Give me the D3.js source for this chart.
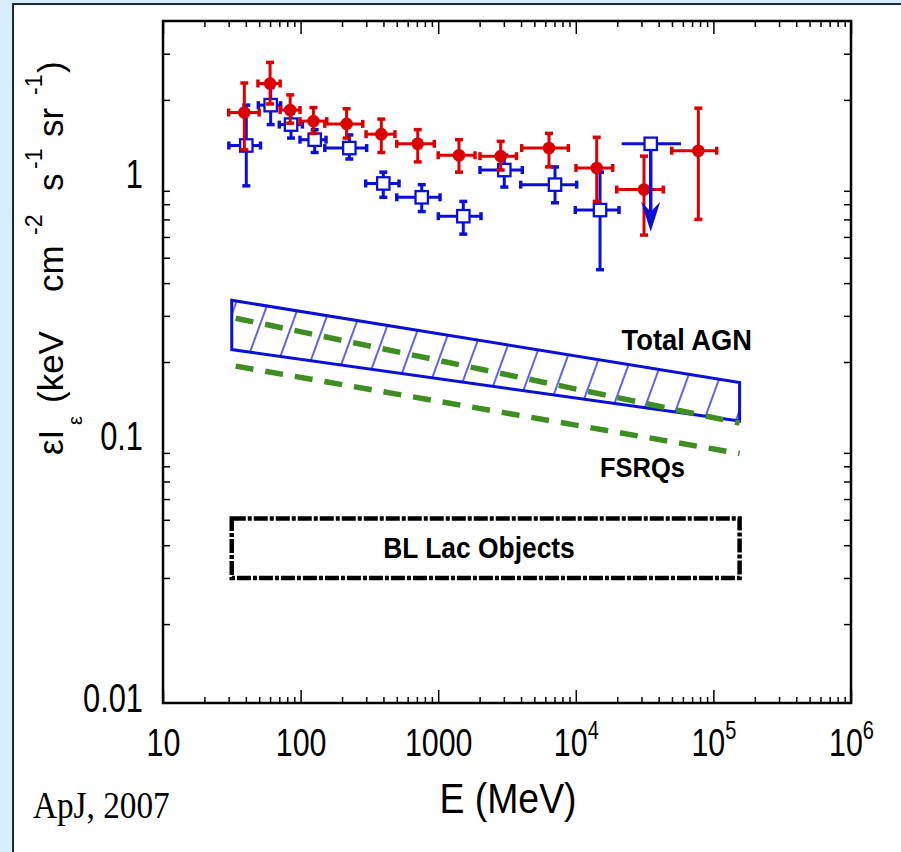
<!DOCTYPE html>
<html>
<head>
<meta charset="utf-8">
<script src="https://cdn.jsdelivr.net/npm/d3@7"></script>
<style>
  body { margin: 0; background: #d8edfb; }
  svg { display: block; }
  text { font-family: "Liberation Sans", Arial, sans-serif; fill: #000; }
</style>
</head>
<body>
<div id="chart"></div>
<script>
// ---- data ----

// red filled circles
var redE    = [39, 60, 84, 124, 216, 386, 710, 1416, 2846, 6386, 14190, 31310, 77700];
var redELo  = [30, 49, 71, 99, 150, 299, 500, 1000, 2013, 4045, 10035, 19830, 49770];
var redEHi  = [50, 71, 99, 155, 283, 485, 937, 1851, 3707, 8820, 18550, 43240, 105700];
var redI    = [1.79, 2.31, 1.83, 1.66, 1.62, 1.48, 1.36, 1.23, 1.22, 1.31, 1.10, 0.91, 1.28];
var redILo  = [1.29, 1.93, 1.63, 1.49, 1.43, 1.26, 1.16, 1.06, 1.08, 1.11, 0.82, 0.61, 0.70];
var redIHi  = [2.32, 2.78, 2.09, 1.87, 1.85, 1.69, 1.54, 1.41, 1.39, 1.49, 1.44, 1.22, 1.86];

// blue open squares
var blueE   = [40.3, 60.6, 85.2, 126.6, 226, 399, 759, 1522, 3022, 7062, 15000];
var blueELo = [30.1, 49.3, 70, 99, 150, 297, 500, 1002, 2013, 3979, 9917];
var blueEHi = [51.1, 71.6, 103, 153, 302, 519, 1031, 2047, 4086, 10150, 20606];
var blueI   = [1.34, 1.91, 1.61, 1.41, 1.31, 0.96, 0.85, 0.72, 1.08, 0.95, 0.76];
var blueILo = [0.94, 1.61, 1.43, 1.26, 1.19, 0.85, 0.75, 0.615, 0.93, 0.81, 0.45];
var blueIHi = [1.91, 2.23, 1.78, 1.54, 1.47, 1.06, 0.95, 0.82, 1.23, 1.11, 1.06];

// blue upper limit
var ulE = [35030], ulELo = [21560], ulEHi = [58150], ulI = [1.36], ulTip = [0.628];

// total AGN band, FSRQ lines, BL Lac box
var bandE     = [31.6, 1.55e5];
var agnUpper  = [0.344, 0.167];
var agnLower  = [0.223, 0.119];
var fsrqUpper = [0.296, 0.117];
var fsrqLower = [0.194, 0.0895];
var blLacLo   = [0.030, 0.030];
var blLacHi   = [0.0506, 0.0506];

// tick values
var xMajor = [10, 100, 1000, 1e4, 1e5, 1e6];
var yMajor = [0.01, 0.1, 1];
var mantissas = [2, 3, 4, 5, 6, 7, 8, 9];

// ---- layout ----
var margin = {top: 21, right: 50, bottom: 149, left: 163},
    width = 688,
    height = 682;

var red = "#dd0000", blue = "#0a10d8", green = "#3e8e22";

var svg = d3.select("#chart").append("svg")
    .attr("width", 901)
    .attr("height", 852);

// light blue slide background with white panel
svg.append("rect").attr("width", 901).attr("height", 852).attr("fill", "#d8edfb");
svg.append("rect")
    .attr("x", 13).attr("y", 4).attr("width", 900).attr("height", 860)
    .attr("fill", "#fff").attr("stroke", "#1e2a36").attr("stroke-width", 2);

var g = svg.append("g")
    .attr("transform", "translate(" + margin.left + "," + margin.top + ")");

// scales
var x = d3.scaleLog().domain([10, 1e6]).range([0, width]);
var y = d3.scaleLog().domain([0.01, 4]).range([height, 0]);

var xMinor = [], yMinor = [];
xMajor.slice(0, -1).forEach(function(p) {
  mantissas.forEach(function(m) { xMinor.push(m * p); });
});
yMajor.concat([10]).forEach(function(p) {
  mantissas.forEach(function(m) { if (m * p < 4) yMinor.push(m * p); });
});

// ---- axes ----
function styleTicks(sel) {
  sel.select(".domain").remove();
  sel.selectAll(".tick line").attr("stroke", "#000").attr("stroke-width", 1.5);
}

g.append("g").attr("transform", "translate(0," + height + ")")
    .call(d3.axisBottom(x).tickValues(xMinor).tickSize(-6).tickFormat(""))
    .call(styleTicks);
g.append("g")
    .call(d3.axisTop(x).tickValues(xMinor).tickSize(-6).tickFormat(""))
    .call(styleTicks);
g.append("g")
    .call(d3.axisTop(x).tickValues(xMajor).tickSize(-13).tickFormat(""))
    .call(styleTicks);

var xAxis = g.append("g").attr("transform", "translate(0," + height + ")")
    .call(d3.axisBottom(x).tickValues(xMajor).tickSize(-13).tickPadding(26))
    .call(styleTicks);

xAxis.selectAll(".tick text").each(function(d) {
  var t = d3.select(this).text("")
      .attr("transform", "scale(0.8,1)")
      .style("font-size", "38px");
  var p = Math.round(Math.log10(d));
  if (p <= 3) {
    t.text(d3.format("d")(d));
  } else {
    t.append("tspan").text("10");
    t.append("tspan").attr("dy", -16.6).style("font-size", "25px").text(p);
  }
});

g.append("g")
    .call(d3.axisLeft(y).tickValues(yMinor).tickSize(-7).tickFormat(""))
    .call(styleTicks);
g.append("g").attr("transform", "translate(" + width + ",0)")
    .call(d3.axisRight(y).tickValues(yMinor).tickSize(-7).tickFormat(""))
    .call(styleTicks);

var yAxis = g.append("g")
    .call(d3.axisLeft(y).tickValues(yMajor).tickSize(0).tickPadding(20)
          .tickFormat(function(d) { return d3.format("~g")(d); }))
    .call(styleTicks);

yAxis.selectAll(".tick text")
    .attr("x", -20 / 0.77)
    .attr("dy", "0.22em")
    .attr("transform", "scale(0.77,1)")
    .style("font-size", "40px");

// frame
g.append("rect")
    .attr("width", width).attr("height", height)
    .attr("fill", "none").attr("stroke", "#000").attr("stroke-width", 2.5);

// ---- model curves ----
var defs = svg.append("defs");
var hatch = defs.append("pattern")
    .attr("id", "hatch")
    .attr("patternUnits", "userSpaceOnUse")
    .attr("width", 30).attr("height", 10)
    .attr("patternTransform", "rotate(20)");
hatch.append("line")
    .attr("x1", 15).attr("y1", -1).attr("x2", 15).attr("y2", 11)
    .attr("stroke", blue).attr("stroke-width", 1.3);

var bandPts = bandE.map(function(e, i) { return [x(e), y(agnUpper[i])]; })
    .concat(bandE.map(function(e, i) { return [x(e), y(agnLower[i])]; }).reverse());

g.append("polygon")
    .attr("points", bandPts.map(function(p) { return p.join(","); }).join(" "))
    .attr("fill", "url(#hatch)")
    .attr("stroke", blue)
    .attr("stroke-width", 3);

var line = d3.line().x(function(d) { return x(d[0]); }).y(function(d) { return y(d[1]); });

[fsrqUpper, fsrqLower].forEach(function(vals) {
  g.append("path")
      .attr("d", line(bandE.map(function(e, i) { return [e, vals[i]]; })))
      .attr("fill", "none")
      .attr("stroke", green)
      .attr("stroke-width", 5.5)
      .attr("stroke-dasharray", "18,12")
      .attr("stroke-dashoffset", -4);
});

g.append("rect")
    .attr("x", x(bandE[0]))
    .attr("y", y(blLacHi[0]))
    .attr("width", x(bandE[1]) - x(bandE[0]))
    .attr("height", y(blLacLo[0]) - y(blLacHi[0]))
    .attr("fill", "none")
    .attr("stroke", "#000")
    .attr("stroke-width", 4.5)
    .attr("stroke-dasharray", "14,2,4,2");

// labels in the plot
function boldLabel(txt, px, py, anchor, size) {
  svg.append("text")
      .attr("transform", "translate(" + px + "," + py + ") scale(0.91,1)")
      .attr("text-anchor", anchor)
      .style("font-size", size + "px")
      .style("font-weight", "bold")
      .text(txt);
}
boldLabel("Total AGN", 752, 350, "end", 30);
boldLabel("FSRQs", 600, 477, "start", 28);
boldLabel("BL Lac Objects", 479, 558, "middle", 29);

// ---- data points ----
function pack(E, Elo, Ehi, I, Ilo, Ihi) {
  return E.map(function(e, i) {
    return {e: e, elo: Elo[i], ehi: Ehi[i], v: I[i], vlo: Ilo[i], vhi: Ihi[i]};
  });
}

function drawPoints(data, color, marker) {
  var pt = g.append("g").selectAll("g")
      .data(data)
    .enter().append("g")
      .attr("stroke", color);

  pt.append("line")
      .attr("x1", function(d) { return x(d.elo); })
      .attr("x2", function(d) { return x(d.ehi); })
      .attr("y1", function(d) { return y(d.v); })
      .attr("y2", function(d) { return y(d.v); })
      .attr("stroke-width", 3);
  pt.append("line")
      .attr("x1", function(d) { return x(d.e); })
      .attr("x2", function(d) { return x(d.e); })
      .attr("y1", function(d) { return y(d.vlo); })
      .attr("y2", function(d) { return y(d.vhi); })
      .attr("stroke-width", 3);

  // caps
  ["elo", "ehi"].forEach(function(k) {
    pt.append("line")
        .attr("x1", function(d) { return x(d[k]); })
        .attr("x2", function(d) { return x(d[k]); })
        .attr("y1", function(d) { return y(d.v) - 4; })
        .attr("y2", function(d) { return y(d.v) + 4; })
        .attr("stroke-width", 3.5);
  });
  ["vlo", "vhi"].forEach(function(k) {
    pt.append("line")
        .attr("x1", function(d) { return x(d.e) - 4; })
        .attr("x2", function(d) { return x(d.e) + 4; })
        .attr("y1", function(d) { return y(d[k]); })
        .attr("y2", function(d) { return y(d[k]); })
        .attr("stroke-width", 3.5);
  });

  if (marker === "circle") {
    pt.append("circle")
        .attr("cx", function(d) { return x(d.e); })
        .attr("cy", function(d) { return y(d.v); })
        .attr("r", 6.3)
        .attr("fill", color)
        .attr("stroke", "none");
  } else {
    pt.append("rect")
        .attr("x", function(d) { return x(d.e) - 6.2; })
        .attr("y", function(d) { return y(d.v) - 6.2; })
        .attr("width", 12.4)
        .attr("height", 12.4)
        .attr("fill", "#fff")
        .attr("stroke-width", 2.3);
  }
}

drawPoints(pack(blueE, blueELo, blueEHi, blueI, blueILo, blueIHi), blue, "square");
drawPoints(pack(redE, redELo, redEHi, redI, redILo, redIHi), red, "circle");

// upper limit with arrow
var ul = ulE.map(function(e, i) {
  return {e: e, elo: ulELo[i], ehi: ulEHi[i], v: ulI[i], tip: ulTip[i]};
});
var ulG = g.append("g").selectAll("g").data(ul).enter().append("g");
ulG.append("line")
    .attr("x1", function(d) { return x(d.elo); })
    .attr("x2", function(d) { return x(d.ehi); })
    .attr("y1", function(d) { return y(d.v); })
    .attr("y2", function(d) { return y(d.v); })
    .attr("stroke", blue).attr("stroke-width", 3);
ulG.append("line")
    .attr("x1", function(d) { return x(d.e); })
    .attr("x2", function(d) { return x(d.e); })
    .attr("y1", function(d) { return y(d.v); })
    .attr("y2", function(d) { return y(d.tip) - 10; })
    .attr("stroke", blue).attr("stroke-width", 3.5);
ulG.append("path")
    .attr("d", function(d) {
      var cx = x(d.e), ty = y(d.tip);
      return "M" + cx + "," + ty + "L" + (cx - 9.5) + "," + (ty - 30) +
             "L" + cx + "," + (ty - 20) + "L" + (cx + 9.5) + "," + (ty - 30) + "Z";
    })
    .attr("fill", blue);
ulG.append("rect")
    .attr("x", function(d) { return x(d.e) - 6.2; })
    .attr("y", function(d) { return y(d.v) - 6.2; })
    .attr("width", 12.4).attr("height", 12.4)
    .attr("fill", "#fff").attr("stroke", blue).attr("stroke-width", 2.3);

// ---- axis titles ----
// rotated title, pieces placed along the baseline like the original
var titleParts = [
  {t: "\u03b5I",   at: 0,   shift: 0,   size: 35},
  {t: "\u03b5",    at: 30,  shift: 19,  size: 20},
  {t: "(keV",      at: 52,  shift: 0,   size: 35},
  {t: "cm",        at: 163, shift: 0,   size: 35},
  {t: "-2",        at: 220, shift: -21, size: 23},
  {t: "s",         at: 264, shift: 0,   size: 35},
  {t: "-1",        at: 286, shift: -21, size: 23},
  {t: "sr",        at: 318, shift: 0,   size: 35},
  {t: "-1",        at: 360, shift: -21, size: 23},
  {t: ")",         at: 382, shift: 0,   size: 35}
];
svg.append("text")
    .attr("transform", "translate(63,455) rotate(-90)")
    .style("font-size", "35px")
  .selectAll("tspan")
    .data(titleParts)
  .enter().append("tspan")
    .attr("x", function(d) { return d.at; })
    .attr("y", function(d) { return d.shift; })
    .style("font-size", function(d) { return d.size + "px"; })
    .text(function(d) { return d.t; });

svg.append("text")
    .attr("transform", "translate(508,813) scale(0.89,1)")
    .attr("text-anchor", "middle")
    .style("font-size", "42px")
    .text("E (MeV)");

svg.append("text")
    .attr("transform", "translate(33,818) scale(0.875,1)")
    .style("font-family", "'Liberation Serif', 'Times New Roman', serif")
    .style("font-size", "38px")
    .text("ApJ, 2007");
</script>
</body>
</html>
